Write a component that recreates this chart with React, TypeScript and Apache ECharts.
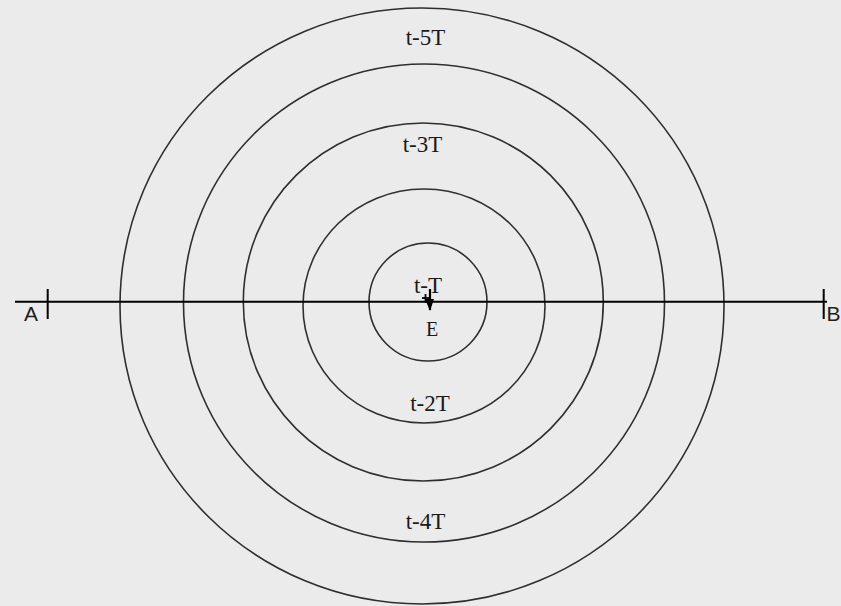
import React, { useEffect, useRef } from "react";
import * as echarts from "echarts";

// Wavefronts (diagram pixel coordinates, y downward)
const waveLabels = ["t-T", "t-2T", "t-3T", "t-4T", "t-5T"];
const waveCenterX = [428, 424, 423.3, 424, 422];
const waveCenterY = [302, 306, 302, 303, 306];
const waveRadiusX = [59, 121, 180, 240.5, 302];
const waveRadiusY = [59, 117, 179, 239, 298];
const waveLabelX = [428, 430, 422.5, 425.5, 425.5];
const waveLabelY = [285, 403.5, 144.5, 521, 37.5];

// Line AB
const lineABX = [15, 827];
const lineABY = [301.7, 301.7];
const endTickX = [47.7, 823.7];
const endTickY0 = [289, 289];
const endTickY1 = [319, 319];
const endLabels = ["A", "B"];
const endLabelX = [31, 833.5];
const endLabelY = [313, 313];

// Source E
const sourceLabel = "E";
const sourceX = [430];
const sourceY = [302];
const sourceLabelPos = [432, 328.5];

export default function App() {
  const ref = useRef<HTMLDivElement>(null);
  useEffect(() => {
    if (!ref.current) return;
    const chart = echarts.init(ref.current, undefined, { renderer: "svg" });
    const waveData = waveLabels.map((l, i) => [
      waveCenterX[i],
      waveCenterY[i],
      waveRadiusX[i],
      waveRadiusY[i],
      waveLabelX[i],
      waveLabelY[i],
      l,
    ]);
    const tickData = endLabels.map((l, i) => [
      endTickX[i],
      endTickY0[i],
      endTickY1[i],
      endLabelX[i],
      endLabelY[i],
      l,
    ]);
    chart.setOption({
      animation: false,
      backgroundColor: "#ebebeb",
      grid: { left: 0, right: 0, top: 0, bottom: 0 },
      xAxis: { type: "value", min: 0, max: 841, show: false },
      yAxis: { type: "value", min: 0, max: 606, inverse: true, show: false },
      series: [
        {
          type: "custom",
          data: waveData,
          renderItem: (params: any, api: any) => {
            const c = api.coord([api.value(0), api.value(1)]);
            const o = api.coord([0, 0]);
            const s = api.coord([api.value(2), api.value(3)]);
            const rx = Math.abs(s[0] - o[0]);
            const ry = Math.abs(s[1] - o[1]);
            const lp = api.coord([api.value(4), api.value(5)]);
            return {
              type: "group",
              children: [
                {
                  type: "ellipse",
                  shape: { cx: c[0], cy: c[1], rx, ry },
                  style: { fill: "none", stroke: "#2e2e2e", lineWidth: 1.6 },
                },
                {
                  type: "text",
                  x: lp[0],
                  y: lp[1],
                  style: {
                    text: waveLabels[params.dataIndex],
                    fill: "#1a1a1a",
                    font: '23px "Liberation Serif", serif',
                    align: "center",
                    verticalAlign: "middle",
                  },
                },
              ],
            };
          },
        },
        {
          type: "line",
          data: lineABX.map((x, i) => [x, lineABY[i]]),
          symbol: "none",
          lineStyle: { color: "#000", width: 2 },
          silent: true,
        },
        {
          type: "custom",
          data: tickData,
          renderItem: (params: any, api: any) => {
            const p0 = api.coord([api.value(0), api.value(1)]);
            const p1 = api.coord([api.value(0), api.value(2)]);
            const lp = api.coord([api.value(3), api.value(4)]);
            return {
              type: "group",
              children: [
                {
                  type: "line",
                  shape: { x1: p0[0], y1: p0[1], x2: p1[0], y2: p1[1] },
                  style: { stroke: "#000", lineWidth: 2 },
                },
                {
                  type: "text",
                  x: lp[0],
                  y: lp[1],
                  style: {
                    text: endLabels[params.dataIndex],
                    fill: "#1e1e1e",
                    font: '21px "Liberation Sans", Arial, sans-serif',
                    align: "center",
                    verticalAlign: "middle",
                  },
                },
              ],
            };
          },
        },
        {
          type: "custom",
          data: sourceX.map((x, i) => [x, sourceY[i]]),
          renderItem: (params: any, api: any) => {
            const c = api.coord([api.value(0), api.value(1)]);
            const lp = api.coord(sourceLabelPos);
            return {
              type: "group",
              children: [
                {
                  type: "line",
                  shape: { x1: c[0], y1: c[1] - 13, x2: c[0], y2: c[1] + 8 },
                  style: { stroke: "#000", lineWidth: 2.2 },
                },
                {
                  type: "line",
                  shape: { x1: c[0] - 8, y1: c[1] - 4, x2: c[0] - 1, y2: c[1] - 4 },
                  style: { stroke: "#000", lineWidth: 1.8 },
                },
                {
                  type: "line",
                  shape: { x1: c[0] - 4.5, y1: c[1] - 8, x2: c[0] - 4.5, y2: c[1] + 1 },
                  style: { stroke: "#000", lineWidth: 1.8 },
                },
                {
                  type: "polygon",
                  shape: {
                    points: [
                      [c[0] - 5, c[1] - 3],
                      [c[0] + 4, c[1] - 3],
                      [c[0], c[1] + 9],
                    ],
                  },
                  style: { fill: "#000" },
                },
                {
                  type: "text",
                  x: lp[0],
                  y: lp[1],
                  style: {
                    text: sourceLabel,
                    fill: "#1a1a1a",
                    font: '20px "Liberation Serif", serif',
                    align: "center",
                    verticalAlign: "middle",
                  },
                },
              ],
            };
          },
        },
      ],
    });
    return () => chart.dispose();
  }, []);
  return (
    <div
      ref={ref}
      style={{ position: "fixed", left: 0, top: 0, width: 841, height: 606 }}
    />
  );
}
